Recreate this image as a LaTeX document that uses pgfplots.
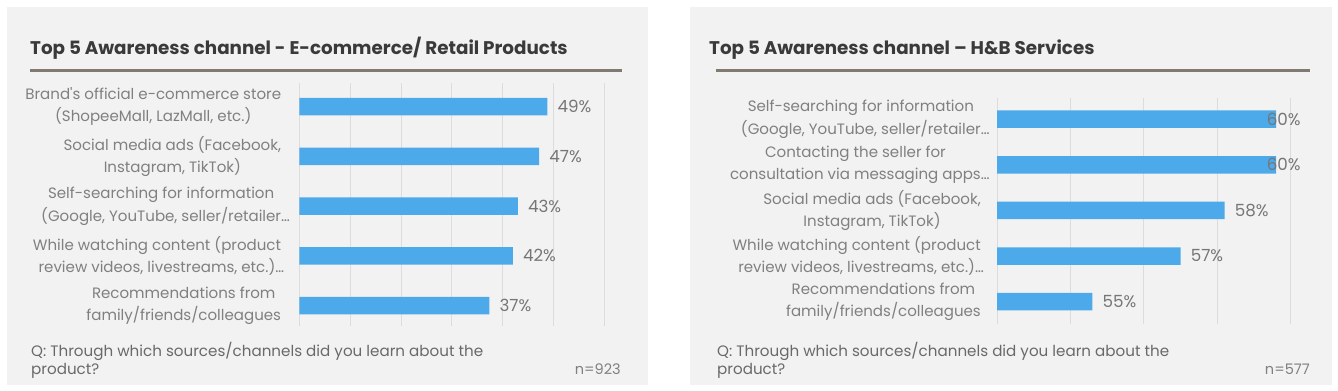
\documentclass[border=0pt]{standalone}
\usepackage{pgfplots}
\pgfplotsset{compat=1.18}
\usepackage{pgfplotstable}
\usepackage{fontspec}
\setmainfont{Poppins}[Ligatures=TeXOff]
\definecolor{panelbg}{RGB}{242,242,242}
\definecolor{barblue}{RGB}{76,169,234}
\definecolor{gridc}{RGB}{220,220,220}
\definecolor{titlec}{RGB}{58,58,58}
\definecolor{labc}{RGB}{128,128,128}
\definecolor{valc}{RGB}{118,118,118}
\definecolor{footc}{RGB}{105,105,105}
\definecolor{rulec}{RGB}{128,122,112}
\newcommand{\ovell}{\rlap{…}}

\pgfplotstableread{
y v lab sh
0 48.8 49 0
1 47.2 47 0
2 43.0 43 0
3 42.0 42 0
4 37.4 37 0
}\lefttab
\pgfplotstableread{
y v lab sh
0 59.6 60 -19.4
1 59.6 60 -19.4
2 58.2 58 0
3 57.0 57 0
4 54.6 55 0
}\righttab

\pgfplotsset{
  panelaxis/.style={
    scale only axis, anchor=south west,
    xbar, bar width=17.5bp,
    xmajorgrids, grid style={gridc, line width=0.8bp},
    xticklabels={},
    y dir=reverse, ytick={0,1,2,3,4},
    yticklabel style={align=center, font=\fontsize{15.1}{22.5}\selectfont, text=labc, inner sep=0pt},
    axis line style={draw=none}, tick style={draw=none}, major tick length=0pt,
    point meta=explicit symbolic,
    visualization depends on={\thisrow{sh} \as \myshift},
    nodes near coords={\pgfplotspointmeta\%},
    every node near coord/.append style={anchor=west, inner sep=0pt, xshift=10bp+\myshift bp, font=\fontsize{16.8}{18}\selectfont, text=valc},
  }
}

\begin{document}
\begin{tikzpicture}
\fill[white] (0bp,0bp) rectangle (1338bp,391bp);
\fill[panelbg] (7bp,6bp) rectangle (648bp,384bp);
\fill[panelbg] (690bp,6bp) rectangle (1332bp,384bp);

% left panel
\node[anchor=base west, inner sep=0pt, font=\fontsize{18.4}{20}\selectfont\bfseries, text=titlec] at (30bp,336.7bp) {Top 5 Awareness channel - E-commerce/ Retail Products};
\draw[rulec, line width=3bp] (30bp,320bp) -- (622bp,320bp);
\node[anchor=base west, inner sep=0pt, font=\fontsize{15.2}{18}\selectfont, text=footc] at (31bp,34.3bp) {Q: Through which sources/channels did you learn about the};
\node[anchor=base west, inner sep=0pt, font=\fontsize{15.2}{18}\selectfont, text=footc] at (31bp,16.5bp) {product?};
\node[anchor=base east, inner sep=0pt, font=\fontsize{14.6}{18}\selectfont, text=labc] at (621bp,16.5bp) {n=923};

\begin{axis}[panelaxis,
  at={(299.3bp,65bp)}, width=305bp, height=242.7bp,
  xmin=0, xmax=60, xtick={0,10,...,60},
  ymin=-0.47, ymax=4.41,
  yticklabel style={xshift=-18bp},
  yticklabels={{Brand's official e-commerce store\\(ShopeeMall, LazMall, etc.)},
               {Social media ads (Facebook,\\Instagram, TikTok)},
               {Self-searching for information\\(Google, YouTube, seller/retailer\ovell},
               {While watching content (product\\review videos, livestreams, etc.)\ovell},
               {Recommendations from\\family/friends/colleagues}},
]
\addplot[fill=barblue, draw=none] table[x=v, y=y, meta=lab] {\lefttab};
\end{axis}

% right panel
\node[anchor=base west, inner sep=0pt, font=\fontsize{18.4}{20}\selectfont\bfseries, text=titlec] at (709bp,336.7bp) {Top 5 Awareness channel – H\&B Services};
\draw[rulec, line width=3bp] (716bp,320bp) -- (1310bp,320bp);
\node[anchor=base west, inner sep=0pt, font=\fontsize{15.2}{18}\selectfont, text=footc] at (717bp,34.3bp) {Q: Through which sources/channels did you learn about the};
\node[anchor=base west, inner sep=0pt, font=\fontsize{15.2}{18}\selectfont, text=footc] at (717bp,16.5bp) {product?};
\node[anchor=base east, inner sep=0pt, font=\fontsize{14.6}{18}\selectfont, text=labc] at (1310bp,16.5bp) {n=577};

\begin{axis}[panelaxis,
  at={(997bp,67bp)}, width=293.7bp, height=226.3bp,
  xmin=52, xmax=60, xtick={52,54,...,60},
  ymin=-0.47, ymax=4.49,
  yticklabel style={xshift=-16bp},
  yticklabels={{Self-searching for information\\(Google, YouTube, seller/retailer\ovell},
               {Contacting the seller for\\consultation via messaging apps\ovell},
               {Social media ads (Facebook,\\Instagram, TikTok)},
               {While watching content (product\\review videos, livestreams, etc.)\ovell},
               {Recommendations from\\family/friends/colleagues}},
]
\addplot[fill=barblue, draw=none] table[x=v, y=y, meta=lab] {\righttab};
\end{axis}
\end{tikzpicture}
\end{document}
